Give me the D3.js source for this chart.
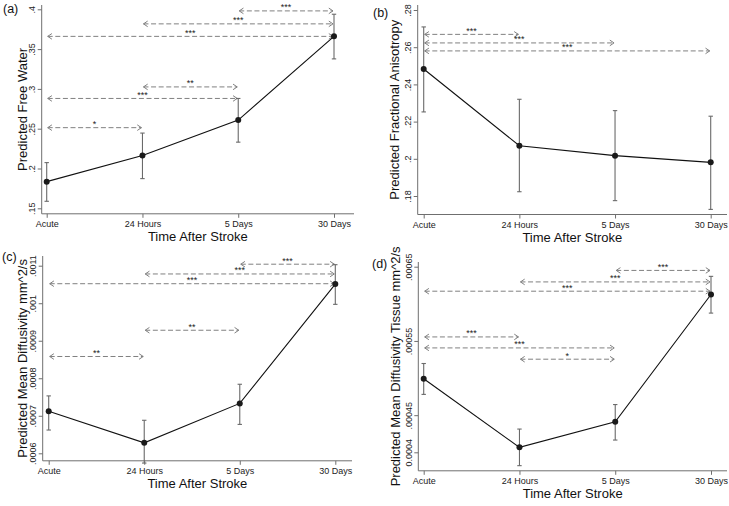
<!DOCTYPE html>
<html>
<head>
<meta charset="utf-8">
<script src="https://cdn.jsdelivr.net/npm/d3@7"></script>
<style>
  html, body { margin: 0; padding: 0; background: #fff; }
  svg { display: block; }
  text { font-family: "Liberation Sans", Arial, Helvetica, sans-serif; }
</style>
</head>
<body>
<svg id="chart" width="729" height="506"></svg>
<script>
// ---------- DATA ----------
const categories = ["Acute", "24 Hours", "5 Days", "30 Days"];

// (a) Free water
const fwMean = [0.1835, 0.2163, 0.2608, 0.3660];
const fwLo   = [0.1588, 0.1873, 0.2331, 0.3377];
const fwHi   = [0.2074, 0.2445, 0.2880, 0.3938];
const fwTicks = [0.15, 0.2, 0.25, 0.3, 0.35, 0.4];
const fwTickLabels = [".15", ".2", ".25", ".3", ".35", ".4"];
// [from, to, level, label]
const fwBrackets = [[2, 3, 0.398, "***"], [1, 3, 0.3817, "***"], [0, 3, 0.366, "***"],
                    [1, 2, 0.3025, "**"], [0, 2, 0.288, "***"], [0, 1, 0.2513, "*"]];

// (b) Fractional anisotropy
const faMean = [0.2483, 0.2070, 0.2017, 0.1981];
const faLo   = [0.2252, 0.1823, 0.1775, 0.1728];
const faHi   = [0.2709, 0.2320, 0.2259, 0.2229];
const faTicks = [0.18, 0.2, 0.22, 0.24, 0.26, 0.28];
const faTickLabels = [".18", ".2", ".22", ".24", ".26", ".28"];
const faBrackets = [[0, 1, 0.2669, "***"], [0, 2, 0.2623, "***"], [0, 3, 0.258, "***"]];

// (c) Mean diffusivity
const mdMean = [0.000712, 0.000628, 0.000733, 0.001051];
const mdLo   = [0.000662, 0.000574, 0.000677, 0.000997];
const mdHi   = [0.000753, 0.000688, 0.000784, 0.0011027];
const mdTicks = [0.0006, 0.0007, 0.0008, 0.0009, 0.001, 0.0011];
const mdTickLabels = [".0006", ".0007", ".0008", ".0009", ".001", ".0011"];
const mdBrackets = [[2, 3, 0.001104, "***"], [1, 3, 0.001078, "***"], [0, 3, 0.001052, "***"],
                    [1, 2, 0.000928, "**"], [0, 1, 0.000858, "**"]];

// (d) Mean diffusivity tissue
const mdtMean = [0.000499, 0.0004067, 0.000441, 0.0006125];
const mdtLo   = [0.000478, 0.000382, 0.0004165, 0.0005875];
const mdtHi   = [0.0005196, 0.0004313, 0.0004643, 0.000637];
const mdtTicks = [0.0004, 0.00045, 0.00055, 0.00065];
const mdtTickLabels = ["0.0004", ".00045", ".00055", ".00065"];
const mdtBrackets = [[2, 3, 0.000645, "***"], [1, 3, 0.0006295, "***"], [0, 3, 0.000617, "***"],
                     [0, 1, 0.0005554, "***"], [0, 2, 0.0005406, "***"], [1, 2, 0.0005254, "*"]];

const xTitle = "Time After Stroke";

// ---------- LAYOUT ----------
const panels = [
  { tag: "(a)", title: "Predicted Free Water", mean: fwMean, lo: fwLo, hi: fwHi,
    ticks: fwTicks, tickLabels: fwTickLabels, brackets: fwBrackets,
    axX: 41.7, axTop: 5, axBottom: 213.8, axRight: 354, catRange: [46.7, 334],
    yDomain: [0.15, 0.4], yRange: [208.3, 9.3], tagXY: [3, 13], yTitleX: 26.5 },
  { tag: "(b)", title: "Predicted Fractional Anisotropy", mean: faMean, lo: faLo, hi: faHi,
    ticks: faTicks, tickLabels: faTickLabels, brackets: faBrackets,
    axX: 417.7, axTop: 5, axBottom: 214.5, axRight: 727, catRange: [423.7, 710.7],
    yDomain: [0.18, 0.28], yRange: [196, 10], tagXY: [373, 17], yTitleX: 399 },
  { tag: "(c)", title: "Predicted Mean Diffusivity mm^2/s", mean: mdMean, lo: mdLo, hi: mdHi,
    ticks: mdTicks, tickLabels: mdTickLabels, brackets: mdBrackets,
    axX: 42.7, axTop: 256, axBottom: 460.8, axRight: 352, catRange: [48.7, 335.3],
    yDomain: [0.0006, 0.0011], yRange: [453.3, 265.7], tagXY: [2, 261], yTitleX: 27 },
  { tag: "(d)", title: "Predicted Mean Diffusivity Tissue mm^2/s", mean: mdtMean, lo: mdtLo, hi: mdtHi,
    ticks: mdtTicks, tickLabels: mdtTickLabels, brackets: mdtBrackets,
    axX: 418.3, axTop: 262, axBottom: 470.8, axRight: 727, catRange: [423.7, 711],
    yDomain: [0.0004, 0.00065], yRange: [452.3, 266.7], tagXY: [372, 268], yTitleX: 400 }
];

const svg = d3.select("#chart");
svg.append("rect").attr("width", 729).attr("height", 506).attr("fill", "#fff");

const AXIS = "#6f6f6f", ARROW = "#808080", EBAR = "#6a6a6a";

function chevron(g, x, y, dir) {
  // dir = -1 for left-pointing, +1 for right-pointing
  const L = 4.2, H = 2.8;
  g.append("path")
    .attr("d", `M${x - dir * L},${y - H} L${x},${y} L${x - dir * L},${y + H}`)
    .attr("fill", "none").attr("stroke", ARROW).attr("stroke-width", 1);
}

panels.forEach(p => {
  const g = svg.append("g");
  const x = d3.scalePoint().domain(categories).range(p.catRange).padding(0);
  const y = d3.scaleLinear().domain(p.yDomain).range(p.yRange);

  // axis lines
  g.append("line").attr("x1", p.axX).attr("x2", p.axX).attr("y1", p.axTop).attr("y2", p.axBottom)
    .attr("stroke", AXIS).attr("stroke-width", 1);
  g.append("line").attr("x1", p.axX).attr("x2", p.axRight).attr("y1", p.axBottom).attr("y2", p.axBottom)
    .attr("stroke", AXIS).attr("stroke-width", 1);

  // y axis
  const ya = g.append("g").attr("transform", `translate(${p.axX},0)`)
    .call(d3.axisLeft(y).tickValues(p.ticks).tickSize(4).tickSizeOuter(0)
      .tickFormat((d, i) => p.tickLabels[i]));
  ya.select(".domain").remove();
  ya.selectAll(".tick line").attr("stroke", AXIS);
  ya.selectAll(".tick text")
    .attr("x", 0).attr("y", -6.5).attr("dy", 0)
    .attr("transform", "rotate(-90)")
    .attr("text-anchor", "middle")
    .attr("font-size", 9).attr("fill", "#222")
    .attr("font-family", '"Liberation Sans", Arial, sans-serif');

  // x axis
  const xa = g.append("g").attr("transform", `translate(0,${p.axBottom})`)
    .call(d3.axisBottom(x).tickSize(4).tickSizeOuter(0));
  xa.select(".domain").remove();
  xa.selectAll(".tick line").attr("stroke", AXIS);
  xa.selectAll(".tick text").attr("font-size", 9).attr("fill", "#222")
    .attr("font-family", '"Liberation Sans", Arial, sans-serif');

  // axis titles
  g.append("text").attr("x", (p.axX + p.axRight) / 2).attr("y", p.axBottom + 27)
    .attr("text-anchor", "middle").attr("font-size", 13).attr("fill", "#111").text(xTitle);
  const ymid = (p.axTop + p.axBottom) / 2;
  g.append("text").attr("transform", `translate(${p.yTitleX},${ymid}) rotate(-90)`)
    .attr("text-anchor", "middle").attr("font-size", 13).attr("fill", "#111").text(p.title);

  // panel tag
  g.append("text").attr("x", p.tagXY[0]).attr("y", p.tagXY[1])
    .attr("font-size", 12.5).attr("fill", "#111").text(p.tag);

  // comparison arrows
  p.brackets.forEach(b => {
    const x1 = x(categories[b[0]]) + 1, x2 = x(categories[b[1]]) - 1, yy = y(b[2]);
    g.append("line").attr("x1", x1).attr("x2", x2).attr("y1", yy).attr("y2", yy)
      .attr("stroke", ARROW).attr("stroke-width", 1).attr("stroke-dasharray", "5,2.6");
    chevron(g, x1, yy, -1);
    chevron(g, x2, yy, 1);
    g.append("text").attr("x", (x1 + x2) / 2).attr("y", yy - 0.5)
      .attr("text-anchor", "middle").attr("font-size", 9).attr("fill", "#222").text(b[3]);
  });

  // error bars
  categories.forEach((c, i) => {
    const cx = x(c);
    g.append("line").attr("x1", cx).attr("x2", cx).attr("y1", y(p.lo[i])).attr("y2", y(p.hi[i]))
      .attr("stroke", EBAR).attr("stroke-width", 1.1);
    [p.lo[i], p.hi[i]].forEach(v => {
      g.append("line").attr("x1", cx - 2.2).attr("x2", cx + 2.2).attr("y1", y(v)).attr("y2", y(v))
        .attr("stroke", EBAR).attr("stroke-width", 1.1);
    });
  });

  // line + points
  const line = d3.line().x((d, i) => x(categories[i])).y(d => y(d));
  g.append("path").datum(p.mean).attr("d", line)
    .attr("fill", "none").attr("stroke", "#111").attr("stroke-width", 1.1);
  g.selectAll("circle.pt").data(p.mean).enter().append("circle")
    .attr("cx", (d, i) => x(categories[i])).attr("cy", d => y(d)).attr("r", 3)
    .attr("fill", "#1a1a1a");
});
</script>
</body>
</html>
